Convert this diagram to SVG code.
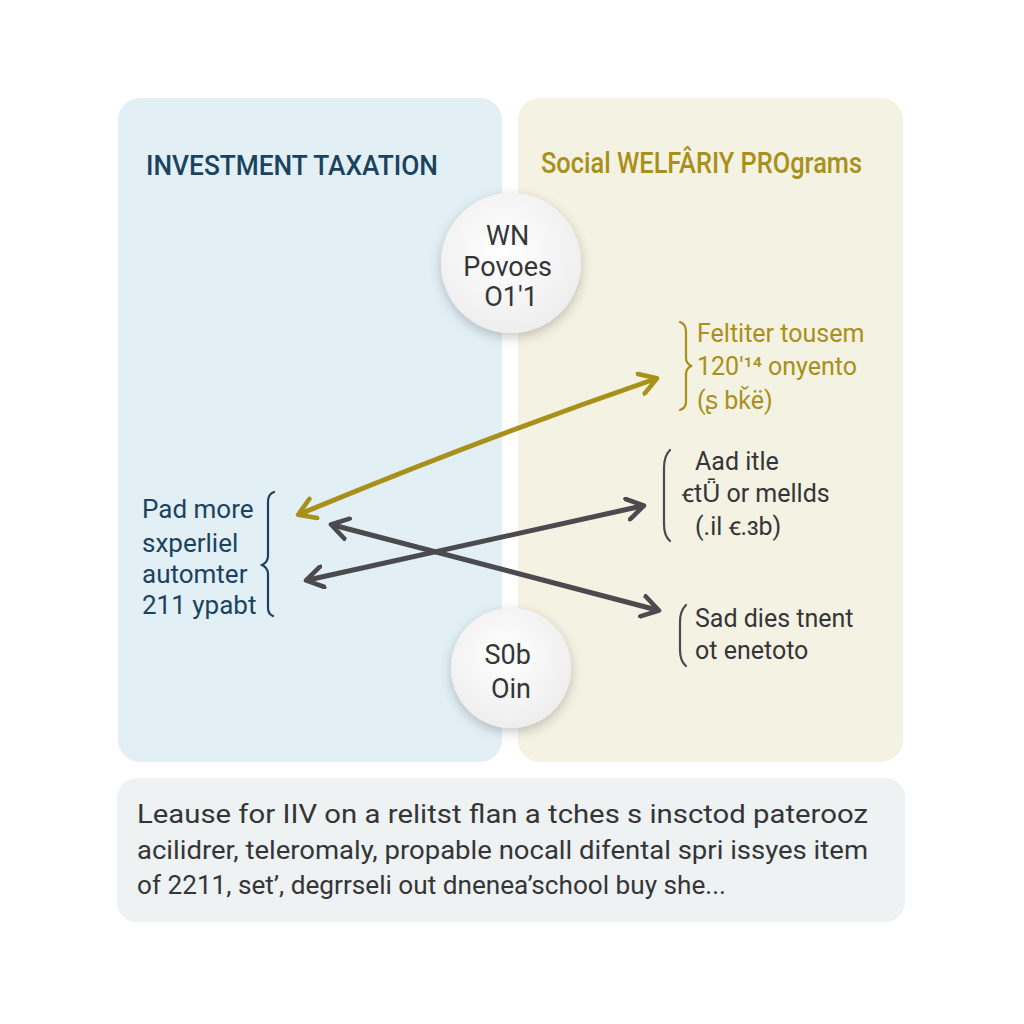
<svg xmlns="http://www.w3.org/2000/svg" width="1024" height="1024" viewBox="0 0 1024 1024">
<defs>
<filter id="sh" x="-30%" y="-30%" width="160%" height="160%">
<feDropShadow dx="0" dy="4" stdDeviation="6" flood-color="#000" flood-opacity="0.22"/>
</filter>
<radialGradient id="cg" cx="0.45" cy="0.4" r="0.6">
<stop offset="0" stop-color="#ffffff"/>
<stop offset="1" stop-color="#eeeeee"/>
</radialGradient>
<marker id="ag" viewBox="0 0 12 12" refX="8" refY="6" markerWidth="5" markerHeight="5" orient="auto-start-reverse" markerUnits="strokeWidth">
<path d="M1,1 L9,6 L1,11" fill="none" stroke="#a8901a" stroke-width="2.2" stroke-linecap="round" stroke-linejoin="round"/>
</marker>
<marker id="ad" viewBox="0 0 12 12" refX="8" refY="6" markerWidth="5" markerHeight="5" orient="auto-start-reverse" markerUnits="strokeWidth">
<path d="M1,1 L9,6 L1,11" fill="none" stroke="#4a4a4f" stroke-width="2.2" stroke-linecap="round" stroke-linejoin="round"/>
</marker>
</defs>
<style>
.t{font-family:"Roboto","Liberation Sans",sans-serif;}
.blue{fill:#1b4360;}
.gold{fill:#a8901a;}
.dark{fill:#353538;}
.br{fill:none;stroke-width:2.2;stroke-linecap:round;}
</style>
<rect x="0" y="0" width="1024" height="1024" fill="#ffffff"/>
<g id="left-panel">
<rect x="118" y="98" width="384" height="664" rx="22" fill="#e2f0f6"/>
<text class="t blue" x="146" y="175" font-size="28" font-weight="500" textLength="292" lengthAdjust="spacingAndGlyphs">INVESTMENT TAXATION</text>
</g>
<g id="right-panel">
<rect x="518" y="98" width="385" height="664" rx="22" fill="#f4f2e2"/>
<text class="t gold" x="541" y="173" font-size="29" font-weight="500" textLength="321" lengthAdjust="spacingAndGlyphs">Social WELFÂRIY PROgrams</text>
</g>
<g id="bottom-box">
<rect x="117" y="778" width="788" height="144" rx="20" fill="#eef2f3"/>
<text class="t dark" font-size="26">
<tspan x="137" y="823" textLength="731" lengthAdjust="spacingAndGlyphs">Leause for IIV on a relitst flan a tches s insctod paterooz</tspan>
<tspan x="137" y="859" textLength="731" lengthAdjust="spacingAndGlyphs">acilidrer, teleromaly, propable nocall difental spri issyes item</tspan>
<tspan x="137" y="894" textLength="589" lengthAdjust="spacingAndGlyphs">of 2211, set’, degrrseli out dnenea’school buy she...</tspan>
</text>
</g>
<g id="connectors" fill="none" stroke-width="5" stroke-linecap="round">
<path d="M300,514 Q478,440 655,379" stroke="#a8901a" marker-start="url(#ag)" marker-end="url(#ag)"/>
<path d="M308,580 L642,506" stroke="#4a4a4f" marker-start="url(#ad)" marker-end="url(#ad)"/>
<path d="M333,525 L657,610" stroke="#4a4a4f" marker-start="url(#ad)" marker-end="url(#ad)"/>
</g>
<g id="node-top">
<circle cx="511" cy="263" r="70" fill="url(#cg)" filter="url(#sh)"/>
<text class="t dark" font-size="27" text-anchor="middle">
<tspan x="511" y="245">WN</tspan>
<tspan x="511" y="276">Povoes</tspan>
<tspan x="511" y="306">O1′1</tspan>
</text>
</g>
<g id="node-bottom">
<circle cx="511" cy="668" r="60" fill="url(#cg)" filter="url(#sh)"/>
<text class="t dark" font-size="27" text-anchor="middle">
<tspan x="511" y="664">S0b</tspan>
<tspan x="511" y="698">Oin</tspan>
</text>
</g>
<g id="node-left">
<text class="t blue" font-size="26">
<tspan x="142" y="518">Pad more</tspan>
<tspan x="142" y="552">sxperliel</tspan>
<tspan x="142" y="583">automter</tspan>
<tspan x="142" y="614">211 ypabt</tspan>
</text>
<path class="br" stroke="#1b4360" d="M274,492 Q268,494 268,502 L268,556 Q268,562 262,565 Q268,568 268,574 L268,608 Q268,614 273,616"/>
</g>
<g id="node-r1">
<path class="br" stroke="#a8901a" d="M680,322 Q686,324 686,332 L686,358 Q686,363 691,366 Q686,369 686,374 L686,402 Q686,408 680,410"/>
<text class="t gold" font-size="25">
<tspan x="697" y="342">Feltiter tousem</tspan>
<tspan x="697" y="375">120′¹⁴ onyento</tspan>
<tspan x="697" y="409">(ʂ bǩё)</tspan>
</text>
</g>
<g id="node-r2">
<path class="br" stroke="#4a4a4f" d="M670,450 Q664,456 664,468 L664,524 Q664,536 670,541"/>
<text class="t dark" font-size="25">
<tspan x="695" y="470">Aad itle</tspan>
<tspan x="682" y="502">ꞓtǕ or mellds</tspan>
<tspan x="695" y="535">(.il ꞓ.ɜb)</tspan>
</text>
</g>
<g id="node-r3">
<path class="br" stroke="#4a4a4f" d="M686,605 Q680,611 680,622 L680,650 Q680,661 686,666"/>
<text class="t dark" font-size="25">
<tspan x="695" y="627">Sad dies tnent</tspan>
<tspan x="695" y="659">ot enetoto</tspan>
</text>
</g>
</svg>
